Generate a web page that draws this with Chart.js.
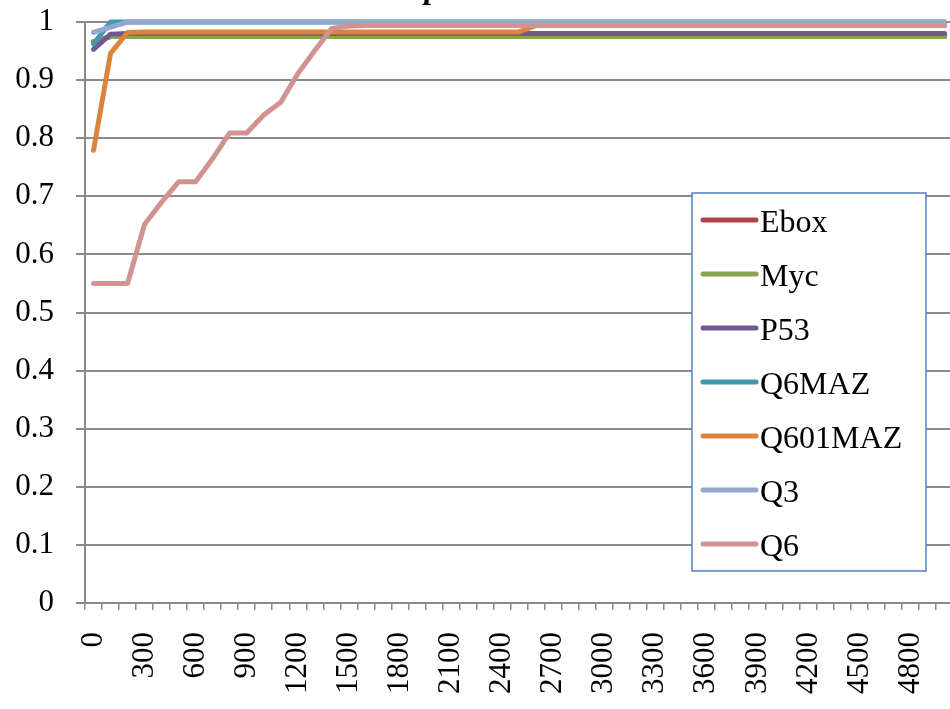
<!DOCTYPE html>
<html lang="en">
<head>
<meta charset="UTF-8" />
<title>Top p</title>
<script src="https://cdn.jsdelivr.net/npm/chart.js"></script>
<style>
  html, body { margin: 0; padding: 0; background: #fff; overflow: hidden; }
  #wrap { width: 1004px; height: 709px; }
</style>
</head>
<body>
<div id="wrap"><canvas id="lineChart" width="1004" height="709"></canvas></div>
<script>
// x categories (0 .. 5000, step 100)
const categories = [
  '0', '100', '200', '300', '400', '500', '600', '700', '800', '900',
  '1000', '1100', '1200', '1300', '1400', '1500', '1600', '1700', '1800', '1900',
  '2000', '2100', '2200', '2300', '2400', '2500', '2600', '2700', '2800', '2900',
  '3000', '3100', '3200', '3300', '3400', '3500', '3600', '3700', '3800', '3900',
  '4000', '4100', '4200', '4300', '4400', '4500', '4600', '4700', '4800', '4900',
  '5000'
];
const yTickLabels = ['0', '0.1', '0.2', '0.3', '0.4', '0.5', '0.6', '0.7', '0.8', '0.9', '1'];

const ebox = [
  0.966, 0.975, 0.975, 0.975, 0.975, 0.975, 0.975, 0.975, 0.975, 0.975,
  0.975, 0.975, 0.975, 0.975, 0.975, 0.975, 0.975, 0.975, 0.975, 0.975,
  0.975, 0.975, 0.975, 0.975, 0.975, 0.975, 0.975, 0.975, 0.975, 0.975,
  0.975, 0.975, 0.975, 0.975, 0.975, 0.975, 0.975, 0.975, 0.975, 0.975,
  0.975, 0.975, 0.975, 0.975, 0.975, 0.975, 0.975, 0.975, 0.975, 0.975,
  0.975
];
const myc = [
  0.966, 0.975, 0.975, 0.975, 0.975, 0.975, 0.975, 0.975, 0.975, 0.975,
  0.975, 0.975, 0.975, 0.975, 0.975, 0.975, 0.975, 0.975, 0.975, 0.975,
  0.975, 0.975, 0.975, 0.975, 0.975, 0.975, 0.975, 0.975, 0.975, 0.975,
  0.975, 0.975, 0.975, 0.975, 0.975, 0.975, 0.975, 0.975, 0.975, 0.975,
  0.975, 0.975, 0.975, 0.975, 0.975, 0.975, 0.975, 0.975, 0.975, 0.975,
  0.975
];
const p53 = [
  0.953, 0.979, 0.98, 0.98, 0.98, 0.98, 0.98, 0.98, 0.98, 0.98,
  0.98, 0.98, 0.98, 0.98, 0.98, 0.98, 0.98, 0.98, 0.98, 0.98,
  0.98, 0.98, 0.98, 0.98, 0.98, 0.98, 0.98, 0.98, 0.98, 0.98,
  0.98, 0.98, 0.98, 0.98, 0.98, 0.98, 0.98, 0.98, 0.98, 0.98,
  0.98, 0.98, 0.98, 0.98, 0.98, 0.98, 0.98, 0.98, 0.98, 0.98,
  0.98
];
const q6maz = [
  0.962, 1, 1, 1, 1, 1, 1, 1, 1, 1,
  1, 1, 1, 1, 1, 1, 1, 1, 1, 1,
  1, 1, 1, 1, 1, 1, 1, 1, 1, 1,
  1, 1, 1, 1, 1, 1, 1, 1, 1, 1,
  1, 1, 1, 1, 1, 1, 1, 1, 1, 1,
  1
];
const q601maz = [
  0.779, 0.946, 0.982, 0.983, 0.983, 0.983, 0.983, 0.983, 0.983, 0.983,
  0.983, 0.983, 0.983, 0.983, 0.983, 0.983, 0.983, 0.983, 0.983, 0.983,
  0.983, 0.983, 0.983, 0.983, 0.983, 0.983, 0.994, 0.994, 0.994, 0.994,
  0.994, 0.994, 0.994, 0.994, 0.994, 0.994, 0.994, 0.994, 0.994, 0.994,
  0.994, 0.994, 0.994, 0.994, 0.994, 0.994, 0.994, 0.994, 0.994, 0.994,
  0.994
];
const q3 = [
  0.982, 0.991, 1, 1, 1, 1, 1, 1, 1, 1,
  1, 1, 1, 1, 1, 1, 1, 1, 1, 1,
  1, 1, 1, 1, 1, 1, 1, 1, 1, 1,
  1, 1, 1, 1, 1, 1, 1, 1, 1, 1,
  1, 1, 1, 1, 1, 1, 1, 1, 1, 1,
  1
];
const q6 = [
  0.55, 0.55, 0.55, 0.652, 0.69, 0.725, 0.725, 0.765, 0.809, 0.809,
  0.84, 0.862, 0.911, 0.951, 0.989, 0.993, 0.994, 0.994, 0.994, 0.994,
  0.994, 0.994, 0.994, 0.994, 0.994, 0.994, 0.994, 0.994, 0.994, 0.994,
  0.994, 0.994, 0.994, 0.994, 0.994, 0.994, 0.994, 0.994, 0.994, 0.994,
  0.994, 0.994, 0.994, 0.994, 0.994, 0.994, 0.994, 0.994, 0.994, 0.994,
  0.994
];

const serif = "'Liberation Serif', 'Times New Roman', serif";
const gridGrey = '#8A8A8A';

function series(label, data, color, order) {
  return {
    label: label, data: data, borderColor: color, backgroundColor: color,
    borderWidth: 5, pointRadius: 0, tension: 0, fill: false,
    borderCapStyle: 'round', borderJoinStyle: 'round', clip: false, order: order
  };
}

// legend sits inside the plot, like the spreadsheet one
const boxLegend = {
  id: 'boxLegend',
  afterDraw(chart) {
    const ctx = chart.ctx;
    ctx.save();
    ctx.fillStyle = '#fff';
    ctx.fillRect(692, 193, 234, 378);
    ctx.strokeStyle = '#4F81BD';
    ctx.lineWidth = 1.5;
    ctx.strokeRect(692, 193, 234, 378);
    chart.data.datasets.forEach((ds, i) => {
      const y = 220 + i * 54;
      ctx.strokeStyle = ds.borderColor;
      ctx.lineWidth = 5;
      ctx.lineCap = 'round';
      ctx.beginPath();
      ctx.moveTo(703, y);
      ctx.lineTo(756, y);
      ctx.stroke();
      ctx.fillStyle = '#000';
      ctx.font = '32px ' + serif;
      ctx.textBaseline = 'alphabetic';
      ctx.fillText(ds.label, 760, y + 12);
    });
    ctx.restore();
  }
};

// title is mostly above the picture, only a descender shows
const cutTitle = {
  id: 'cutTitle',
  afterDraw(chart) {
    const ctx = chart.ctx;
    ctx.save();
    ctx.fillStyle = '#000';
    ctx.font = 'italic bold 32px ' + serif;
    ctx.textBaseline = 'alphabetic';
    ctx.fillText('Top', 392, -2);
    ctx.restore();
  }
};

new Chart(document.getElementById('lineChart'), {
  type: 'line',
  data: {
    labels: categories,
    datasets: [
      series('Ebox', ebox, '#AA4643', 7),
      series('Myc', myc, '#89A54E', 6),
      series('P53', p53, '#71588F', 5),
      series('Q6MAZ', q6maz, '#4198AF', 4),
      series('Q601MAZ', q601maz, '#DB843D', 3),
      series('Q3', q3, '#93A9CF', 2),
      series('Q6', q6, '#D19392', 1)
    ]
  },
  options: {
    responsive: false,
    animation: false,
    layout: { padding: { top: 22, right: 16, left: 0, bottom: 0 } },
    plugins: { legend: { display: false }, title: { display: false }, tooltip: { enabled: false } },
    scales: {
      x: {
        type: 'category',
        offset: true,
        grid: { offset: true, drawOnChartArea: false, drawTicks: true, tickLength: 7, color: gridGrey, lineWidth: 1.5 },
        border: { color: gridGrey, width: 2 },
        ticks: {
          autoSkip: false, minRotation: 90, maxRotation: 90, padding: 22,
          color: '#000', font: { family: serif, size: 31 },
          callback: (v, i) => (i % 3 === 0 ? categories[i] : '')
        },
        afterFit: s => { s.height = 106; }
      },
      y: {
        min: 0, max: 1,
        grid: { color: gridGrey, lineWidth: 2, tickLength: 9, drawTicks: true },
        border: { color: gridGrey, width: 2 },
        ticks: {
          stepSize: 0.1, padding: 22, color: '#000', font: { family: serif, size: 31 },
          callback: (v) => yTickLabels[Math.round(v * 10)]
        },
        afterFit: s => { s.width = 85; s.paddingTop = 0; s.paddingBottom = 0; }
      }
    }
  },
  plugins: [boxLegend, cutTitle]
});
</script>
</body>
</html>
